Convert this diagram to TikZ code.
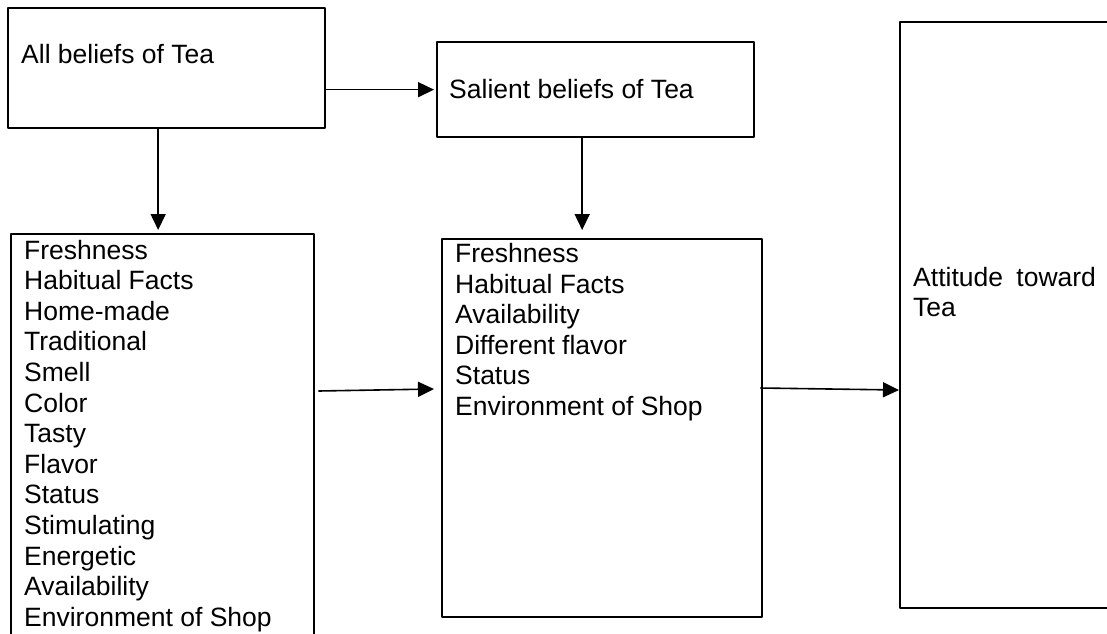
\documentclass[tikz,border=0pt]{standalone}
\usepackage{fontspec}
\setmainfont{Liberation Sans}
\usetikzlibrary{arrows.meta}

\begin{document}
\begin{tikzpicture}[x=1pt, y=-1pt, line join=round, >={Triangle[length=16pt,width=15pt]}]
	\tikzset{box/.style={draw, line width=2.3pt, inner sep=0, anchor=north west},
		txt/.style={anchor=base west, inner sep=0, font=\fontsize{26.5}{30.5}\selectfont},
		arr/.style={->, line width=1.6pt}}
	\def \dy{30.6}
	\useasboundingbox (0,0) rectangle (1107,633);
	\clip (0,0) rectangle (1107,633);
	% boxes
	\node[box, minimum width=317, minimum height=120] (allb) at (7,7) {};
	\node[box, minimum width=317, minimum height=95] (salb) at (436,41) {};
	\node[box, minimum width=303, minimum height=420] (cbox) at (10,233) {};
	\node[box, minimum width=320, minimum height=378] (dbox) at (441,238) {};
	\node[box, minimum width=240, minimum height=586] (att) at (899,21) {};
	% texts
	\node[txt] (allt) at ([shift={(14,56)}]allb.north west) {All beliefs of Tea};
	\node[txt] (salt) at ([shift={(13,57)}]salb.north west) {Salient beliefs of Tea};
	\foreach \w [count=\i] in {Freshness, Habitual Facts, Home-made, Traditional, Smell, Color, Tasty, Flavor, Status, Stimulating, Energetic, Availability, Environment of Shop}
		\node[txt] (c\i) at ([shift={(14,{26+\dy*(\i-1)})}]cbox.north west) {\w};
	\foreach \w [count=\i] in {Freshness, Habitual Facts, Availability, Different flavor, Status, Environment of Shop}
		\node[txt] (d\i) at ([shift={(14,{24.5+\dy*(\i-1)})}]dbox.north west) {\w};
	\foreach \w [count=\i] in {Attitude\hspace{6pt} toward, Tea}
		\node[txt] (e\i) at ([shift={(14,{265+\dy*(\i-1)})}]att.north west) {\w};
	% arrows
	\draw[arr, shorten >=2pt] (allb.east |- salb.west) -- (salb.west);
	\draw[arr, shorten >=3pt] ([xshift=-8.5pt]allb.south) -- ([xshift=-8.5pt]allb.south |- cbox.north);
	\draw[arr, shorten >=8pt] ([xshift=-13.5pt]salb.south) -- ([xshift=-13.5pt]salb.south |- dbox.north);
	\draw[arr] ([shift={(3,158)}]cbox.north east) -- ([shift={(-7,151)}]dbox.north west);
	\draw[arr] ([shift={(-3,150)}]dbox.north east) -- ([shift={(0,369)}]att.north west);
\end{tikzpicture}
\end{document}
